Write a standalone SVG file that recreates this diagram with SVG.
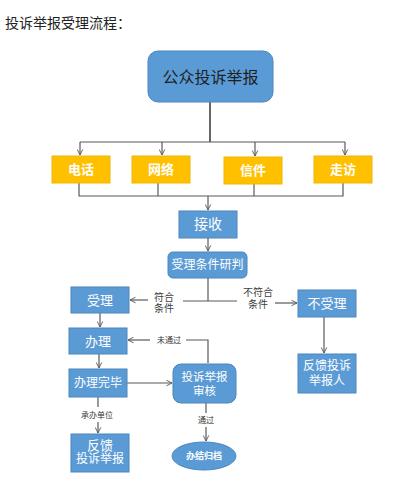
<svg xmlns="http://www.w3.org/2000/svg" width="406" height="500" viewBox="0 0 406 500">
<defs>
<marker id="ah" viewBox="0 0 10 10" refX="9" refY="5" markerWidth="7" markerHeight="7" orient="auto" markerUnits="userSpaceOnUse">
<path d="M1,1 L9,5 L1,9" fill="none" stroke="#595959" stroke-width="1.3"/>
</marker>
</defs>
<style>
text{font-family:"Liberation Serif","Noto Sans CJK SC",serif;text-anchor:middle;dominant-baseline:central}
.blue{fill:#5B9BD5;stroke:#4A86BE;stroke-width:1}
.yel{fill:#FFC000;stroke:#F2B600;stroke-width:1}
.wt{fill:#ffffff;font-size:13px}
.lbl{fill:#404040;font-size:10px}
.sm{fill:#333333;font-size:8px}
.ln{fill:none;stroke:#595959;stroke-width:1.2}
.arr{fill:none;stroke:#595959;stroke-width:1.2;marker-end:url(#ah)}
</style>
<rect width="406" height="500" fill="#ffffff"/>
<text x="5" y="23" style="text-anchor:start;font-size:14px;fill:#222222">投诉举报受理流程：</text>

<g id="connectors">
<path class="ln" d="M210,102 V142" style="stroke:#333333;stroke-width:1.5"/>
<path class="ln" d="M80,142 H345"/>
<path class="arr" d="M80,142 V155"/>
<path class="arr" d="M162,142 V155"/>
<path class="arr" d="M255,142 V156"/>
<path class="arr" d="M345,142 V155"/>
<path class="ln" d="M79,183 V196 H343 V183"/>
<path class="ln" d="M158,183 V196"/>
<path class="ln" d="M254,184 V196"/>
<path class="arr" d="M208,196 V210"/>
<path class="arr" d="M208,238 V251"/>
<path class="ln" d="M208,278 V301"/>
<path class="ln" d="M183,301 H237"/>
<path class="arr" d="M148,300 H130"/>
<path class="arr" d="M275,303 H297"/>
<path class="arr" d="M100,313 V327"/>
<path class="ln" d="M186,340 H208 V363"/>
<path class="arr" d="M150,340 H128"/>
<path class="arr" d="M324,317 V353"/>
<path class="arr" d="M99,354 V368"/>
<path class="arr" d="M127,383 H172"/>
<path class="ln" d="M98,397 V407"/>
<path class="arr" d="M98,422 V433"/>
<path class="ln" d="M206,403 V413"/>
<path class="arr" d="M206,427 V441"/>
<text x="164" y="297" class="lbl">符合</text>
<text x="164" y="308" class="lbl">条件</text>
<text x="258" y="292" class="lbl">不符合</text>
<text x="258" y="304" class="lbl">条件</text>
<text x="169" y="340" class="sm">未通过</text>
<text x="97" y="415" class="sm">承办单位</text>
<text x="206" y="420" class="sm">通过</text>
</g>

<g id="n-public">
<rect x="148" y="51" width="125" height="51" rx="10" class="blue"/>
<text x="210.5" y="77" style="font-size:16px;fill:#1e1e1e">公众投诉举报</text>
</g>
<g id="n-phone">
<rect x="52" y="156" width="58" height="27" class="yel"/>
<text x="81" y="169.5" class="wt" style="font-weight:bold">电话</text>
</g>
<g id="n-net">
<rect x="132" y="156" width="58" height="27" class="yel"/>
<text x="161" y="169.5" class="wt" style="font-weight:bold">网络</text>
</g>
<g id="n-letter">
<rect x="224" y="157" width="58" height="27" class="yel"/>
<text x="253" y="170.5" class="wt" style="font-weight:bold">信件</text>
</g>
<g id="n-visit">
<rect x="314" y="156" width="58" height="27" class="yel"/>
<text x="343" y="169.5" class="wt" style="font-weight:bold">走访</text>
</g>
<g id="n-receive">
<rect x="179" y="211" width="58" height="27" class="blue"/>
<text x="208" y="224.5" class="wt" style="font-size:14px">接收</text>
</g>
<g id="n-judge">
<rect x="168" y="252" width="79" height="26" rx="5" class="blue"/>
<text x="207.5" y="265" class="wt" style="font-size:12px">受理条件研判</text>
</g>
<g id="n-accept">
<rect x="71" y="287" width="58" height="26" class="blue"/>
<text x="100" y="300" class="wt">受理</text>
</g>
<g id="n-reject">
<rect x="298" y="290" width="58" height="27" class="blue"/>
<text x="327" y="303.5" class="wt">不受理</text>
</g>
<g id="n-handle">
<rect x="69" y="328" width="58" height="26" class="blue"/>
<text x="98" y="341" class="wt">办理</text>
</g>
<g id="n-done">
<rect x="69" y="369" width="58" height="28" class="blue"/>
<text x="98" y="383" class="wt" style="font-size:12px">办理完毕</text>
</g>
<g id="n-review">
<rect x="173" y="364" width="63" height="39" rx="8" class="blue"/>
<text x="204.5" y="377" class="wt" style="font-size:11.5px">投诉举报</text>
<text x="204.5" y="391" class="wt" style="font-size:11.5px">审核</text>
</g>
<g id="n-archive">
<ellipse cx="204" cy="456" rx="32" ry="14" class="blue"/>
<text x="204" y="456" class="wt" style="font-size:9px;font-weight:bold">办结归档</text>
</g>
<g id="n-feedback">
<rect x="71" y="434" width="58" height="38" class="blue"/>
<text x="100" y="445" class="wt" style="font-size:13px">反馈</text>
<text x="100" y="459" class="wt" style="font-size:12px">投诉举报</text>
</g>
<g id="n-feedback-person">
<rect x="298" y="354" width="58" height="39" class="blue"/>
<text x="327" y="366" class="wt" style="font-size:12px">反馈投诉</text>
<text x="327" y="381" class="wt" style="font-size:12px">举报人</text>
</g>
</svg>
